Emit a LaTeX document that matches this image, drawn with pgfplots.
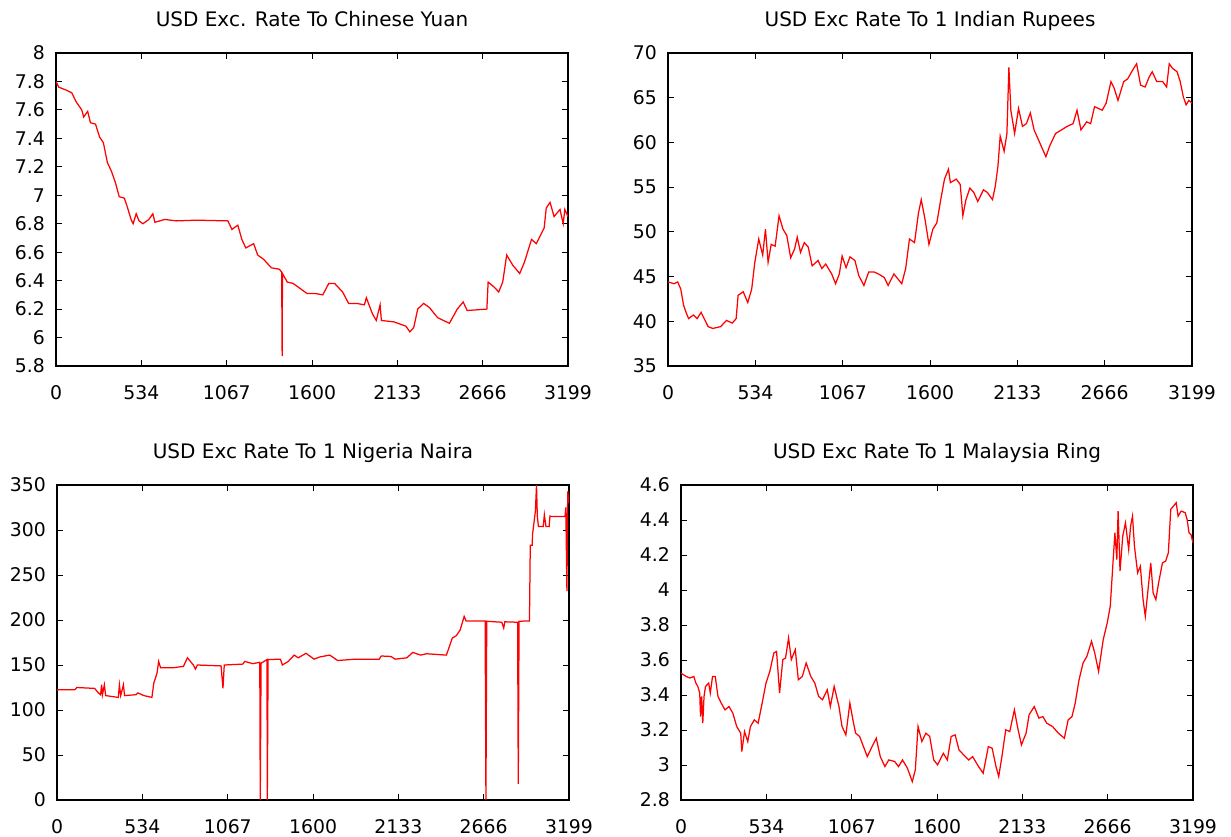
\documentclass[border=0pt]{standalone}
\usepackage{fontspec}
\setmainfont{DejaVu Sans}
\usepackage{pgfplots}
\pgfplotsset{compat=1.18}
\pgfplotsset{
  gp/.style={
    scale only axis,
    xmin=0, xmax=3199,
    xtick={0,534,1067,1600,2133,2666,3199},
    xticklabels={0,534,1067,1600,2133,2666,3199},
    axis line style={black, line width=0.8pt},
    major tick style={black, line width=0.6pt},
    major tick length=3.6pt,
    tick align=inside,
    font=\fontsize{11.3}{13.5}\selectfont,
    title style={font=\fontsize{12}{14}\selectfont},
    /pgf/number format/assume math mode=true,
    /pgf/number format/set thousands separator={},
    xticklabel style={yshift=-8.4pt},
    yticklabel style={xshift=-3.2pt},
    scaled ticks=false,
  },
  rl/.style={red, line width=0.75pt, mark=none},
}
\begin{document}
\begin{tikzpicture}
\path[use as bounding box] (0,0) rectangle (738.6pt,501.6pt);
% Chinese Yuan
\begin{axis}[gp, at={(33.6pt,282pt)}, anchor=south west, width=307.2pt, height=187.8pt,
  ymin=5.8, ymax=8, ytick={5.8,6,6.2,6.4,6.6,6.8,7,7.2,7.4,7.6,7.8,8},
  yticklabels={5.8,6,6.2,6.4,6.6,6.8,7,7.2,7.4,7.6,7.8,8},
  title={USD Exc. Rate To Chinese Yuan}, title style={at={(0.5,1)},anchor=base,yshift=10.2pt}]
\addplot[rl] coordinates {
(0,7.80)(17,7.76)(62,7.74)(99,7.72)(124,7.66)(161,7.60)(173,7.55)(198,7.59)(215,7.51)(247,7.50)
(272,7.41)(296,7.37)(321,7.23)(346,7.17)(371,7.09)(395,6.99)(427,6.98)(445,6.92)(469,6.83)(482,6.80)
(501,6.87)(519,6.82)(543,6.80)(580,6.83)(605,6.87)(618,6.81)(679,6.83)(753,6.82)(877,6.825)(1074,6.82)
(1099,6.76)(1136,6.79)(1161,6.69)(1186,6.63)(1235,6.66)(1260,6.58)(1297,6.55)(1346,6.49)(1396,6.48)(1410,6.46)
(1413,5.87)(1415,6.45)(1445,6.39)(1482,6.38)(1519,6.35)(1568,6.31)(1618,6.31)(1667,6.30)(1704,6.38)(1741,6.38)
(1791,6.32)(1828,6.24)(1877,6.24)(1927,6.23)(1939,6.28)(1976,6.17)(2001,6.12)(2025,6.23)(2033,6.12)(2112,6.11)
(2186,6.08)(2211,6.04)(2235,6.07)(2260,6.20)(2297,6.24)(2334,6.21)(2384,6.14)(2458,6.10)(2507,6.20)(2544,6.25)
(2569,6.19)(2692,6.20)(2700,6.39)(2742,6.35)(2766,6.32)(2791,6.39)(2816,6.58)(2853,6.51)(2897,6.45)(2927,6.53)
(2971,6.69)(3001,6.66)(3050,6.77)(3063,6.91)(3087,6.95)(3112,6.85)(3149,6.90)(3169,6.80)(3179,6.90)(3199,6.85)
};
\end{axis}
% Indian Rupees
\begin{axis}[gp, at={(400.8pt,282pt)}, anchor=south west, width=314.4pt, height=187.8pt,
  ymin=35, ymax=70, ytick={35,40,45,50,55,60,65,70},
  title={USD Exc Rate To 1 Indian Rupees}, title style={at={(0.5,1)},anchor=base,yshift=10.2pt}]
\addplot[rl] coordinates {
(0,44.4)(36,44.2)(59,44.4)(78,43.6)(95,41.8)(112,40.9)(126,40.3)(155,40.7)(178,40.3)(202,41.0)
(226,40.1)(245,39.4)(273,39.2)(321,39.4)(357,40.1)(392,39.8)(416,40.3)(428,42.9)(459,43.3)(487,42.1)
(511,43.6)(530,46.6)(554,49.2)(578,47.4)(595,50.3)(611,46.6)(630,48.6)(654,48.4)(678,51.8)(702,50.3)
(725,49.6)(749,47.1)(773,48.1)(789,49.4)(809,47.7)(832,48.8)(856,48.3)(880,46.2)(916,46.8)(939,45.9)
(963,46.4)(999,45.3)(1023,44.2)(1046,45.3)(1063,47.3)(1087,46.0)(1111,47.2)(1141,46.8)(1165,45.1)(1196,44.0)
(1225,45.5)(1260,45.5)(1284,45.3)(1320,44.9)(1344,44.0)(1379,45.3)(1427,44.2)(1451,45.9)(1474,49.2)(1505,48.8)
(1529,52.1)(1546,53.6)(1569,51.4)(1593,48.6)(1617,50.3)(1641,51.0)(1665,53.6)(1688,55.9)(1712,57.0)(1724,55.5)
(1760,55.9)(1784,55.3)(1800,51.8)(1819,53.6)(1843,54.9)(1867,54.4)(1891,53.4)(1926,54.7)(1950,54.4)(1981,53.6)
(1998,55.1)(2014,57.3)(2028,60.7)(2052,59.0)(2069,61.0)(2081,68.4)(2093,63.6)(2116,61.0)(2140,63.8)(2164,61.8)
(2188,62.1)(2212,63.3)(2235,61.4)(2271,59.9)(2307,58.4)(2330,59.6)(2366,61.0)(2402,61.4)(2437,61.8)(2473,62.1)
(2497,63.6)(2521,61.4)(2556,62.3)(2580,62.1)(2604,64.0)(2651,63.6)(2675,64.4)(2704,66.8)(2723,66.1)(2747,64.7)
(2782,66.8)(2806,67.1)(2837,68.1)(2861,68.8)(2885,66.4)(2913,66.2)(2937,67.3)(2956,67.9)(2984,66.8)(3020,66.8)
(3044,66.2)(3060,68.8)(3079,68.3)(3108,67.9)(3127,66.8)(3146,65.1)(3163,64.2)(3180,64.7)(3199,64.4)
};
\end{axis}
% Nigeria Naira
\begin{axis}[gp, at={(34.2pt,21.6pt)}, anchor=south west, width=307.2pt, height=189pt,
  ymin=0, ymax=350, ytick={0,50,100,150,200,250,300,350},
  title={USD Exc Rate To 1 Nigeria Naira}, title style={at={(0.5,1)},anchor=base,yshift=10pt}]
\addplot[rl] coordinates {
(0,122.5)(111,122.5)(124,125)(235,124)(259,119)(272,117)(279,128)(284,117)(296,128)(304,116)
(383,114)(390,128)(398,116)(415,128)(422,116)(494,117)(506,119)(543,116)(593,114)(605,130)
(625,141)(635,154)(647,147)(729,147)(790,148.5)(815,158)(852,150)(865,145.5)(877,150)(1025,149)
(1037,124)(1045,150)(1161,151)(1173,154)(1223,151.5)(1267,153)(1270,0)(1275,152)(1312,156)(1314,0)
(1319,156)(1396,156.5)(1408,150)(1445,154)(1482,161)(1507,158)(1556,163)(1606,156.5)(1643,159)(1704,161)
(1754,155)(1865,156.5)(2013,156.5)(2026,160)(2087,159.5)(2112,156.5)(2186,158)(2223,164)(2272,161)(2309,162.5)
(2433,161)(2470,180)(2495,182.6)(2519,189)(2544,204)(2556,199)(2675,199)(2680,0)(2685,198.6)(2779,197.5)
(2791,191)(2798,198)(2878,197.5)(2882,18)(2887,198.6)(2952,199)(2957,283)(2969,283)(2971,295)(2989,321)
(2996,350)(3001,315.5)(3008,304)(3038,304)(3045,317)(3055,304)(3075,304)(3080,315.5)(3088,315)(3174,315)
(3179,325)(3186,232)(3191,343)(3199,330)
};
\end{axis}
% Malaysia Ring
\begin{axis}[gp, at={(408.6pt,21.6pt)}, anchor=south west, width=307.2pt, height=189pt,
  ymin=2.8, ymax=4.6, ytick={2.8,3,3.2,3.4,3.6,3.8,4,4.2,4.4,4.6},
  yticklabels={2.8,3,3.2,3.4,3.6,3.8,4,4.2,4.4,4.6},
  title={USD Exc Rate To 1 Malaysia Ring}, title style={at={(0.5,1)},anchor=base,yshift=10pt}]
\addplot[rl] coordinates {
(0,3.525)(32,3.506)(56,3.497)(80,3.506)(93,3.468)(105,3.449)(117,3.411)(122,3.277)(129,3.392)(136,3.239)
(144,3.392)(153,3.449)(173,3.468)(183,3.411)(197,3.506)(214,3.506)(231,3.392)(251,3.354)(275,3.315)(300,3.334)
(324,3.296)(348,3.220)(373,3.182)(380,3.077)(397,3.191)(417,3.134)(434,3.220)(458,3.258)(482,3.239)(507,3.354)
(531,3.468)(555,3.535)(580,3.640)(597,3.649)(616,3.411)(636,3.602)(653,3.611)(672,3.726)(689,3.602)(714,3.659)
(733,3.487)(758,3.506)(782,3.583)(811,3.506)(836,3.468)(860,3.392)(884,3.373)(914,3.430)(933,3.334)(957,3.449)
(987,3.334)(1006,3.220)(1030,3.172)(1055,3.354)(1074,3.258)(1091,3.182)(1116,3.163)(1140,3.105)(1164,3.048)(1189,3.096)
(1220,3.153)(1245,3.048)(1274,2.991)(1298,3.029)(1335,3.020)(1359,2.991)(1384,3.029)(1415,2.981)(1445,2.905)(1464,2.972)
(1481,3.220)(1505,3.134)(1530,3.182)(1554,3.163)(1579,3.029)(1603,3.001)(1639,3.067)(1664,3.029)(1688,3.163)(1713,3.172)
(1737,3.086)(1766,3.058)(1798,3.029)(1822,3.048)(1859,2.991)(1888,2.953)(1920,3.105)(1944,3.096)(1968,2.991)(1985,2.934)
(2005,3.048)(2029,3.201)(2054,3.191)(2083,3.315)(2102,3.220)(2127,3.115)(2156,3.182)(2175,3.287)(2207,3.334)(2236,3.268)
(2261,3.277)(2285,3.239)(2321,3.220)(2358,3.182)(2395,3.153)(2419,3.258)(2443,3.277)(2463,3.354)(2487,3.487)(2512,3.583)
(2536,3.621)(2565,3.707)(2585,3.640)(2609,3.535)(2638,3.716)(2663,3.812)(2682,3.907)(2699,4.155)(2711,4.327)(2723,4.174)
(2731,4.451)(2743,4.108)(2760,4.308)(2777,4.384)(2797,4.232)(2809,4.365)(2821,4.422)(2833,4.251)(2853,4.098)(2870,4.136)
(2887,3.945)(2901,3.850)(2918,4.003)(2935,4.155)(2950,3.983)(2967,3.945)(2984,4.041)(3008,4.155)(3028,4.165)(3045,4.213)
(3060,4.461)(3077,4.480)(3094,4.499)(3106,4.422)(3125,4.451)(3150,4.442)(3162,4.403)(3174,4.327)(3186,4.317)(3199,4.270)
};
\end{axis}
\end{tikzpicture}
\end{document}
